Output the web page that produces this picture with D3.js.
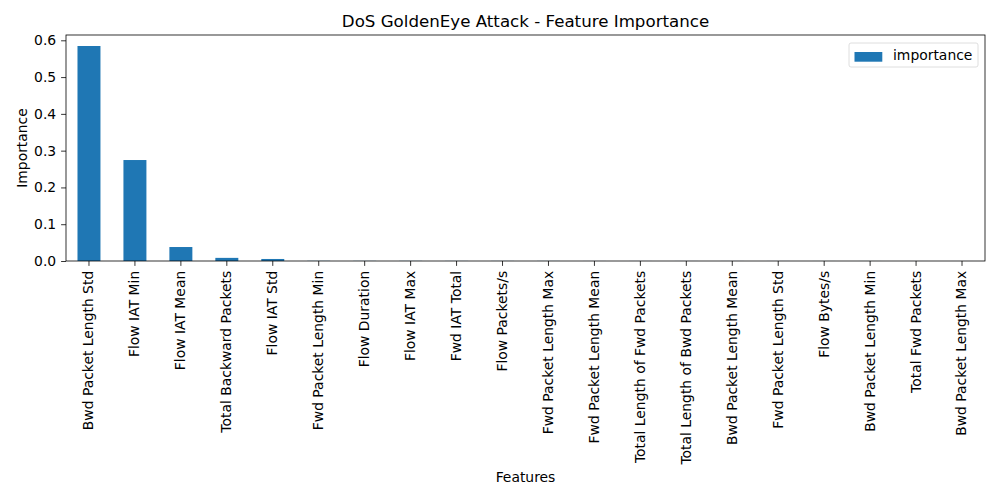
<!DOCTYPE html>
<html>
<head>
<meta charset="utf-8">
<script src="https://cdn.jsdelivr.net/npm/d3@7"></script>
<style>
  body { margin: 0; background: #fff; }
  svg { display: block; font-family: "DejaVu Sans", sans-serif; }
</style>
</head>
<body>
<svg id="chart" width="1000" height="500"></svg>
<script>
const categories = [
  "Bwd Packet Length Std", "Flow IAT Min", "Flow IAT Mean", "Total Backward Packets",
  "Flow IAT Std", "Fwd Packet Length Min", "Flow Duration", "Flow IAT Max",
  "Fwd IAT Total", "Flow Packets/s", "Fwd Packet Length Max", "Fwd Packet Length Mean",
  "Total Length of Fwd Packets", "Total Length of Bwd Packets", "Bwd Packet Length Mean",
  "Fwd Packet Length Std", "Flow Bytes/s", "Bwd Packet Length Min", "Total Fwd Packets",
  "Bwd Packet Length Max"
];
const importance = [
  0.5845, 0.2745, 0.0380, 0.0085, 0.0055, 0.0004, 0.0003, 0.0003,
  0.0002, 0.0002, 0.0002, 0.0001, 0.0001, 0.0001, 0.0001,
  0.0001, 0.00005, 0.00005, 0.00003, 0.00002
];
const yTicks = [0.0, 0.1, 0.2, 0.3, 0.4, 0.5, 0.6];
const seriesName = "importance";
const title = "DoS GoldenEye Attack - Feature Importance";
const xLabel = "Features";
const yLabel = "Importance";

const color = "#1f77b4";
const fs = 13.9;
const m = { left: 66, right: 15, top: 35, bottom: 239 };
const W = 1000, H = 500;
const iw = W - m.left - m.right, ih = H - m.top - m.bottom;

const svg = d3.select("#chart");
const g = svg.append("g").attr("transform", `translate(${m.left},${m.top})`);

const x = d3.scaleBand().domain(categories).range([0, iw]).paddingInner(0.5).paddingOuter(0.25);
const y = d3.scaleLinear().domain([0, 0.6144]).range([ih, 0]);

g.selectAll("rect.bar").data(categories).join("rect")
  .attr("class", "bar")
  .attr("x", d => x(d))
  .attr("width", x.bandwidth())
  .attr("y", (d, i) => y(importance[i]))
  .attr("height", (d, i) => ih - y(importance[i]))
  .attr("fill", color);

// axes
const yAxis = g.append("g").call(d3.axisLeft(y).tickValues(yTicks).tickFormat(d3.format(".1f")).tickSize(4.9).tickPadding(4.9));
const xAxis = g.append("g").attr("transform", `translate(0,${ih})`).call(d3.axisBottom(x).tickSize(4.9).tickPadding(4.9));
[yAxis, xAxis].forEach(a => {
  a.select(".domain").remove();
  a.selectAll("line").attr("stroke", "#000").attr("stroke-width", 0.8);
  a.selectAll("text").attr("font-size", fs).attr("fill", "#000").attr("font-family", "DejaVu Sans");
});
xAxis.selectAll(".tick text")
  .attr("transform", "rotate(-90)")
  .attr("text-anchor", "end")
  .attr("dy", "0.32em")
  .attr("x", -9.8)
  .attr("y", 0);

// frame
g.append("rect").attr("x", 0).attr("y", 0).attr("width", iw).attr("height", ih)
  .attr("fill", "none").attr("stroke", "#000").attr("stroke-width", 0.8);

// title & labels
svg.append("text").attr("x", m.left + iw / 2).attr("y", 27).attr("text-anchor", "middle")
  .attr("font-size", 16.67).text(title);
svg.append("text").attr("x", m.left + iw / 2).attr("y", 482).attr("text-anchor", "middle")
  .attr("font-size", fs).text(xLabel);
svg.append("text").attr("transform", `translate(27,${m.top + ih / 2}) rotate(-90)`)
  .attr("text-anchor", "middle").attr("font-size", fs).text(yLabel);

// legend
const lg = svg.append("g").attr("transform", "translate(849,43)");
lg.append("rect").attr("x", 0).attr("y", 0).attr("width", 129).attr("height", 24).attr("rx", 2)
  .attr("fill", "#fff").attr("fill-opacity", 0.8).attr("stroke", "#d6d6d6").attr("stroke-width", 0.8);
lg.append("rect").attr("x", 5.5).attr("y", 9).attr("width", 27.8).attr("height", 9.7).attr("fill", color);
lg.append("text").attr("x", 44).attr("y", 16.5).attr("font-size", fs).text(seriesName);
</script>
</body>
</html>
